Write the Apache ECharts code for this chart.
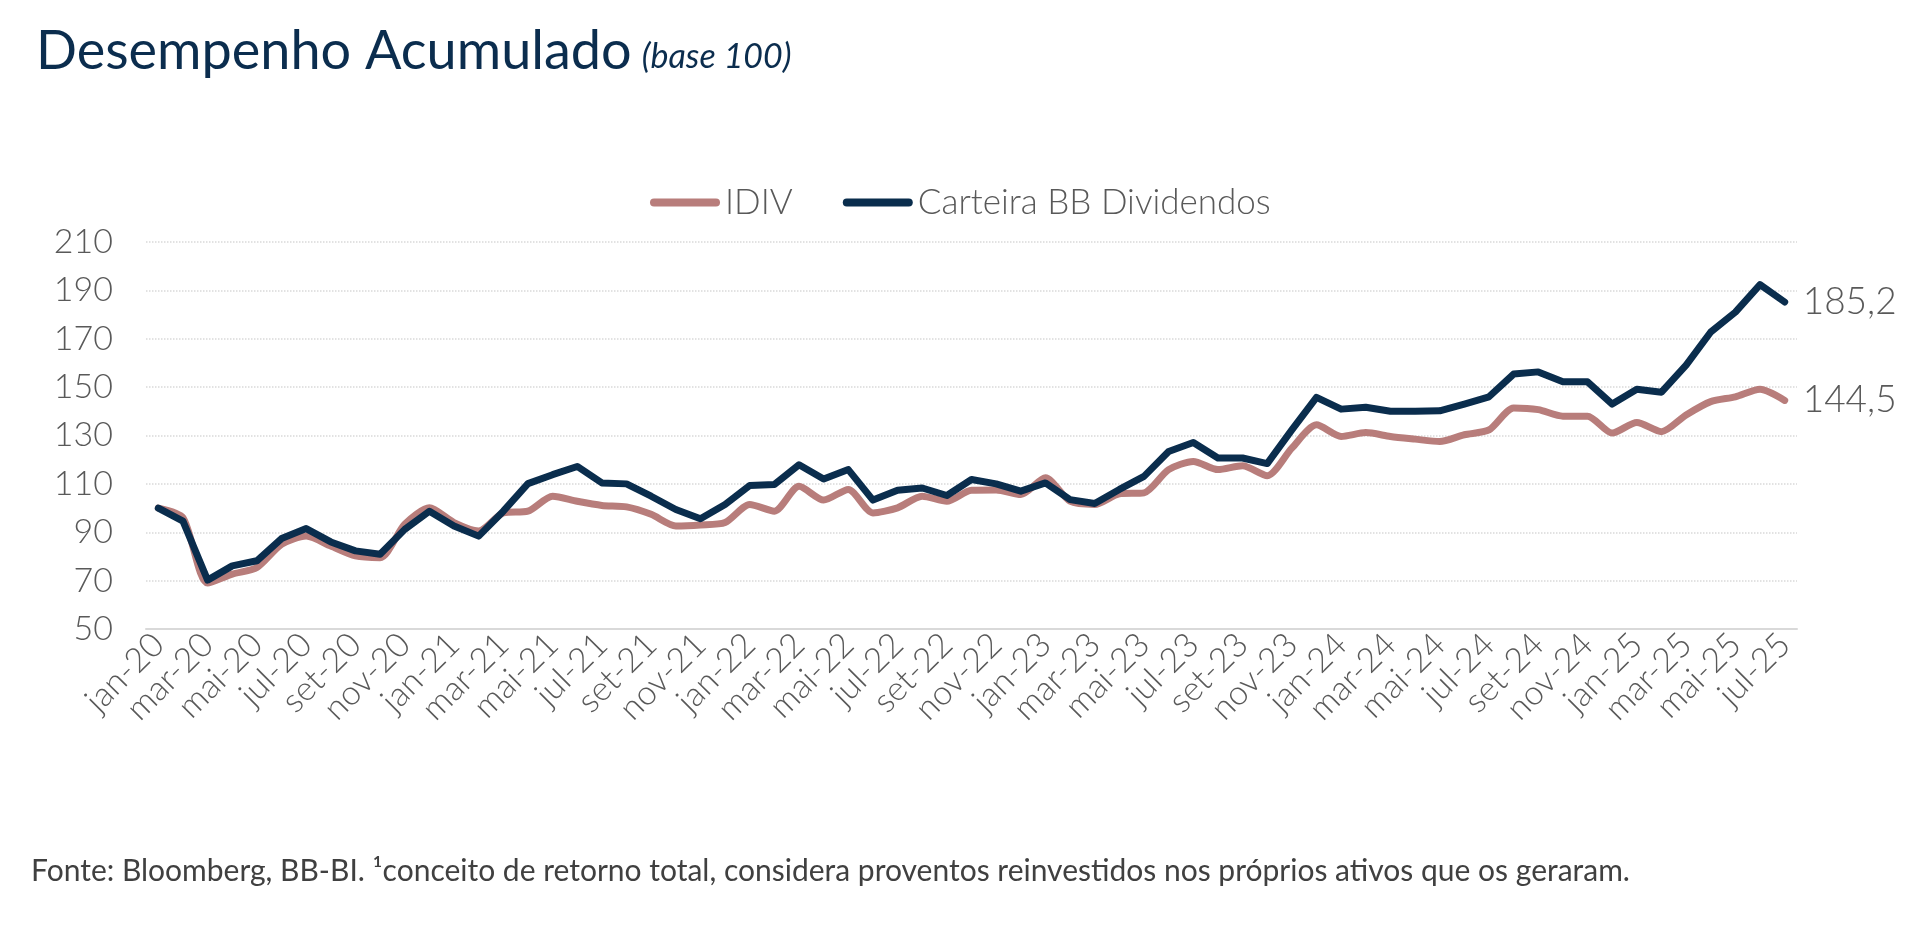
<!DOCTYPE html>
<html>
<head>
<meta charset="utf-8">
<script src="https://cdn.jsdelivr.net/npm/echarts@6/dist/echarts.min.js"></script>
<style>
html,body{margin:0;padding:0;background:#fff;}
#chart{width:1920px;height:937px;}
</style>
</head>
<body>
<div id="chart"></div>
<script>
var meses = ['jan-20','fev-20','mar-20','abr-20','mai-20','jun-20','jul-20','ago-20','set-20','out-20','nov-20','dez-20',
	'jan-21','fev-21','mar-21','abr-21','mai-21','jun-21','jul-21','ago-21','set-21','out-21','nov-21','dez-21',
	'jan-22','fev-22','mar-22','abr-22','mai-22','jun-22','jul-22','ago-22','set-22','out-22','nov-22','dez-22',
	'jan-23','fev-23','mar-23','abr-23','mai-23','jun-23','jul-23','ago-23','set-23','out-23','nov-23','dez-23',
	'jan-24','fev-24','mar-24','abr-24','mai-24','jun-24','jul-24','ago-24','set-24','out-24','nov-24','dez-24',
	'jan-25','fev-25','mar-25','abr-25','mai-25','jun-25','jul-25'];

var idiv = [100, 96, 69, 72.7, 75.4, 85, 88.4, 84.3, 80.2, 79.5, 93.3, 100.1,
	94, 90.5, 98, 98.7, 104.9, 102.8, 101.1, 100.5, 97.4, 92.6, 93, 94,
	101.5, 98.7, 109, 103.3, 107.7, 98, 100.1, 104.9, 102.8, 107.4, 107.5, 105.6,
	112.5, 102.8, 101.5, 105.9, 106.3, 115.9, 119.3, 115.9, 117.5, 113.4, 124.8, 134.4,
	129.6, 131.2, 129.6, 128.5, 127.5, 130.3, 132.3, 141.4, 140.7, 138, 138, 131,
	135.4, 131.6, 138.5, 144, 146, 149.1, 144.5];

var carteira = [100, 94.6, 70.2, 76.1, 78.2, 87.4, 91.5, 86, 82.3, 80.9, 91.2, 98.7,
	92.6, 88.4, 98.7, 110.1, 113.8, 117.2, 110.4, 110, 104.9, 99.4, 95.6, 101.5,
	109.3, 109.7, 117.9, 112, 115.9, 103.3, 107.4, 108.3, 105.2, 111.8, 110, 107,
	110.4, 103.5, 101.9, 107.7, 113.1, 123.4, 127.1, 120.7, 120.7, 118.4, 132.3, 145.8,
	140.9, 141.7, 140, 140, 140.2, 143, 146, 155.4, 156.3, 152.2, 152.2, 143,
	149.1, 147.9, 159.1, 172.8, 181, 192.4, 185.2];

var fonte = 'Lato, "Noto Sans", sans-serif';
var cinza = '#595959';

var myChart = echarts.init(document.getElementById('chart'));
var legendIcon = 'path://M4,0 H66 A4,4 0 0 1 66,8 H4 A4,4 0 0 1 4,0 Z';

function virgula(p){
	return String(p.value).replace('.', ',');
}

var option = {
	backgroundColor: '#fff',
	animation: false,
	title: {
		left: 31,
		top: 20,
		text: '{a|Desempenho Acumulado}  {b|(base 100)}',
		textStyle: {
			fontWeight: 'normal',
			rich: {
				a: {fontFamily: fonte, fontSize: 54, fontWeight: 'normal', color: '#0b2d4e'},
				b: {fontFamily: fonte, fontSize: 34, fontWeight: 'normal', fontStyle: 'italic', color: '#0b2d4e', padding: [10, 0, 0, 0]}
			}
		}
	},
	legend: {
		left: 645,
		top: 180,
		itemWidth: 70,
		itemHeight: 8,
		itemGap: 50,
		textStyle: {fontFamily: fonte, fontSize: 35, color: cinza, fontWeight: 300},
		data: [
			{name: 'IDIV', icon: legendIcon},
			{name: 'Carteira BB Dividendos', icon: legendIcon}
		]
	},
	grid: {left: 146, right: 123, top: 242, bottom: 308, containLabel: false},
	xAxis: {
		type: 'category',
		data: meses,
		boundaryGap: true,
		axisLine: {lineStyle: {color: '#d9d9d9', width: 2}},
		axisTick: {show: false},
		axisLabel: {
			interval: 1,
			rotate: 45,
			margin: 10,
			fontFamily: fonte,
			fontSize: 34,
			fontWeight: 300,
			color: cinza
		}
	},
	yAxis: {
		type: 'value',
		min: 50,
		max: 210,
		interval: 20,
		axisLine: {show: false},
		axisTick: {show: false},
		axisLabel: {margin: 33, fontFamily: fonte, fontSize: 34, fontWeight: 300, color: cinza},
		splitLine: {lineStyle: {color: '#d9d9d9', type: 'dotted', width: 1.5}}
	},
	series: [
		{
			name: 'IDIV',
			type: 'line',
			data: idiv,
			smooth: 0.25,
			showSymbol: false,
			color: '#b87d7b',
			lineStyle: {width: 7, color: '#b87d7b', cap: 'round', join: 'round'},
			endLabel: {
				show: true,
				distance: 18,
				fontFamily: fonte,
				fontSize: 37,
				fontWeight: 300,
				color: cinza,
				formatter: virgula
			}
		},
		{
			name: 'Carteira BB Dividendos',
			type: 'line',
			data: carteira,
			showSymbol: false,
			color: '#0a2d4d',
			lineStyle: {width: 7, color: '#0a2d4d', cap: 'round', join: 'round'},
			endLabel: {
				show: true,
				distance: 18,
				fontFamily: fonte,
				fontSize: 37,
				fontWeight: 300,
				color: cinza,
				formatter: virgula
			}
		}
	],
	graphic: [
		{
			type: 'text',
			left: 31,
			top: 856,
			style: {
				text: 'Fonte: Bloomberg, BB-BI. \u00b9conceito de retorno total, considera proventos reinvestidos nos pr\u00f3prios ativos que os geraram.',
				fontFamily: fonte,
				fontSize: 30,
				fill: '#404040'
			}
		}
	]
};
myChart.setOption(option);
</script>
</body>
</html>
